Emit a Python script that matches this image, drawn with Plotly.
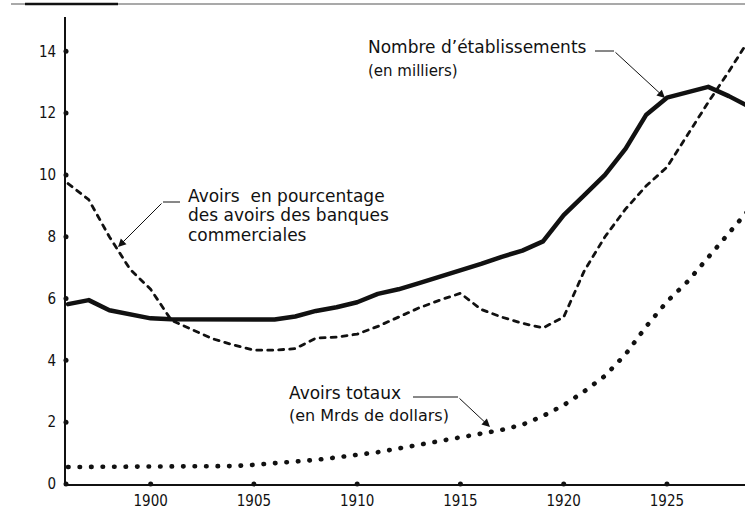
import plotly.graph_objects as go

# ---------------- data ----------------
years = list(range(1896, 1930))

etablissements = [5.82, 5.95, 5.62, 5.48, 5.36, 5.33, 5.33, 5.32, 5.30, 5.30,
                  5.32, 5.42, 5.60, 5.72, 5.88, 6.15, 6.30, 6.50, 6.70, 6.90,
                  7.12, 7.35, 7.55, 7.85, 8.70, 9.35, 10.00, 10.85, 11.95, 12.50,
                  12.68, 12.85, 12.55, 12.20]

pourcentage = [9.72, 9.20, 8.00, 6.95, 6.30, 5.30, 5.00, 4.70, 4.50, 4.33,
               4.33, 4.38, 4.72, 4.75, 4.85, 5.10, 5.40, 5.70, 5.95, 6.17,
               5.65, 5.40, 5.20, 5.05, 5.40, 6.90, 8.00, 8.90, 9.65, 10.25,
               11.30, 12.35, 13.35, 14.40]

avoirs_totaux = [0.55, 0.55, 0.55, 0.55, 0.55, 0.55, 0.56, 0.56, 0.58, 0.62,
                 0.67, 0.72, 0.78, 0.86, 0.94, 1.03, 1.15, 1.27, 1.38, 1.50,
                 1.60, 1.75, 1.92, 2.20, 2.55, 3.00, 3.50, 4.20, 5.10, 5.90,
                 6.55, 7.35, 8.10, 8.90]

x_ticks = [1900, 1905, 1910, 1915, 1920, 1925]
y_ticks = [0, 2, 4, 6, 8, 10, 12, 14]

# ---------------- layout geometry ----------------
W, H = 745, 521
L, R, T, B = 66, 745, 17, 484
X0, X1 = 1895.9, 1928.78
Y0, Y1 = 0, 15.11

def px(xp):
    return (xp - L) / (R - L)

def py(yp):
    return (B - yp) / (B - T)

INK = "#111111"
tick_font = dict(family="Liberation Sans Narrow, Arial Narrow, DejaVu Sans Condensed, sans-serif",
                 size=15, color=INK)
ann_font = "DejaVu Sans, Liberation Sans, sans-serif"

fig = go.Figure()

fig.add_trace(go.Scatter(x=years, y=pourcentage, mode="lines",
                         line=dict(color=INK, width=2.8, dash="5px,6px"),
                         showlegend=False, hoverinfo="skip"))
fig.add_trace(go.Scatter(x=years, y=avoirs_totaux, mode="lines",
                         line=dict(color=INK, width=4.6, dash="0.5px,11px"),
                         showlegend=False, hoverinfo="skip"))
fig.add_trace(go.Scatter(x=years, y=etablissements, mode="lines",
                         line=dict(color=INK, width=4.5),
                         showlegend=False, hoverinfo="skip"))

# axis tick dots
fig.add_trace(go.Scatter(x=[X0] * len(y_ticks), y=y_ticks, mode="markers",
                         marker=dict(color=INK, size=5), cliponaxis=False,
                         showlegend=False, hoverinfo="skip"))
fig.add_trace(go.Scatter(x=x_ticks, y=[0] * len(x_ticks), mode="markers",
                         marker=dict(color=INK, size=5), cliponaxis=False,
                         showlegend=False, hoverinfo="skip"))

fig.update_layout(
    width=W, height=H,
    margin=dict(l=L, r=W - R, t=T, b=H - B),
    paper_bgcolor="white", plot_bgcolor="white",
    showlegend=False,
    xaxis=dict(range=[X0, X1], tickvals=x_ticks, ticktext=[str(v) for v in x_ticks],
               showgrid=False, zeroline=False, showline=True, linecolor=INK,
               linewidth=1.6, ticks="", tickfont=tick_font, ticklabelstandoff=2),
    yaxis=dict(range=[Y0, Y1], tickvals=y_ticks, ticktext=[str(v) for v in y_ticks],
               showgrid=False, zeroline=False, showline=True, linecolor=INK,
               linewidth=1.8, ticks="", tickfont=tick_font, ticklabelstandoff=5),
)

# top rule of the page
fig.add_shape(type="line", xref="paper", yref="paper",
              x0=px(11), x1=px(745), y0=py(4), y1=py(4),
              line=dict(color="#555555", width=1.2))
fig.add_shape(type="line", xref="paper", yref="paper",
              x0=px(25), x1=px(118), y0=py(4), y1=py(4),
              line=dict(color=INK, width=2.5))

def label(text, xp, yp, size):
    fig.add_annotation(text=text, xref="paper", yref="paper", x=px(xp), y=py(yp),
                       xanchor="left", yanchor="middle", showarrow=False,
                       font=dict(family=ann_font, size=size, color=INK))

def leader(x_start, x_end, y, tip_x, tip_y):
    fig.add_shape(type="line", xref="paper", yref="paper",
                  x0=px(x_start), x1=px(x_end), y0=py(y), y1=py(y),
                  line=dict(color=INK, width=1))
    fig.add_annotation(text="", xref="paper", yref="paper",
                       x=px(tip_x), y=py(tip_y), axref="pixel", ayref="pixel",
                       ax=x_end - tip_x, ay=y - tip_y, showarrow=True,
                       arrowhead=2, arrowsize=1.6, arrowwidth=1, arrowcolor=INK,
                       standoff=0, startstandoff=0)

label("Nombre d’établissements", 366, 47, 17)
label("(en milliers)", 366, 71, 15)
leader(595, 614, 51, 665, 98)

label("Avoirs  en pourcentage", 186, 196, 17)
label("des avoirs des banques", 186, 215, 17)
label("commerciales", 186, 235, 17)
leader(180, 163, 202, 118, 247)

label("Avoirs totaux", 287, 393, 17)
label("(en Mrds de dollars)", 287, 415, 16)
leader(413, 458, 397, 490, 427)

post = """
document.body.style.margin='0';
document.body.style.overflow='hidden';
document.querySelectorAll('.scatterlayer path.js-line').forEach(function(p){
  p.style.strokeLinecap='round'; p.style.strokeLinejoin='round';
});
"""
fig.write_html("out.html", post_script=post, config={"displayModeBar": False})
